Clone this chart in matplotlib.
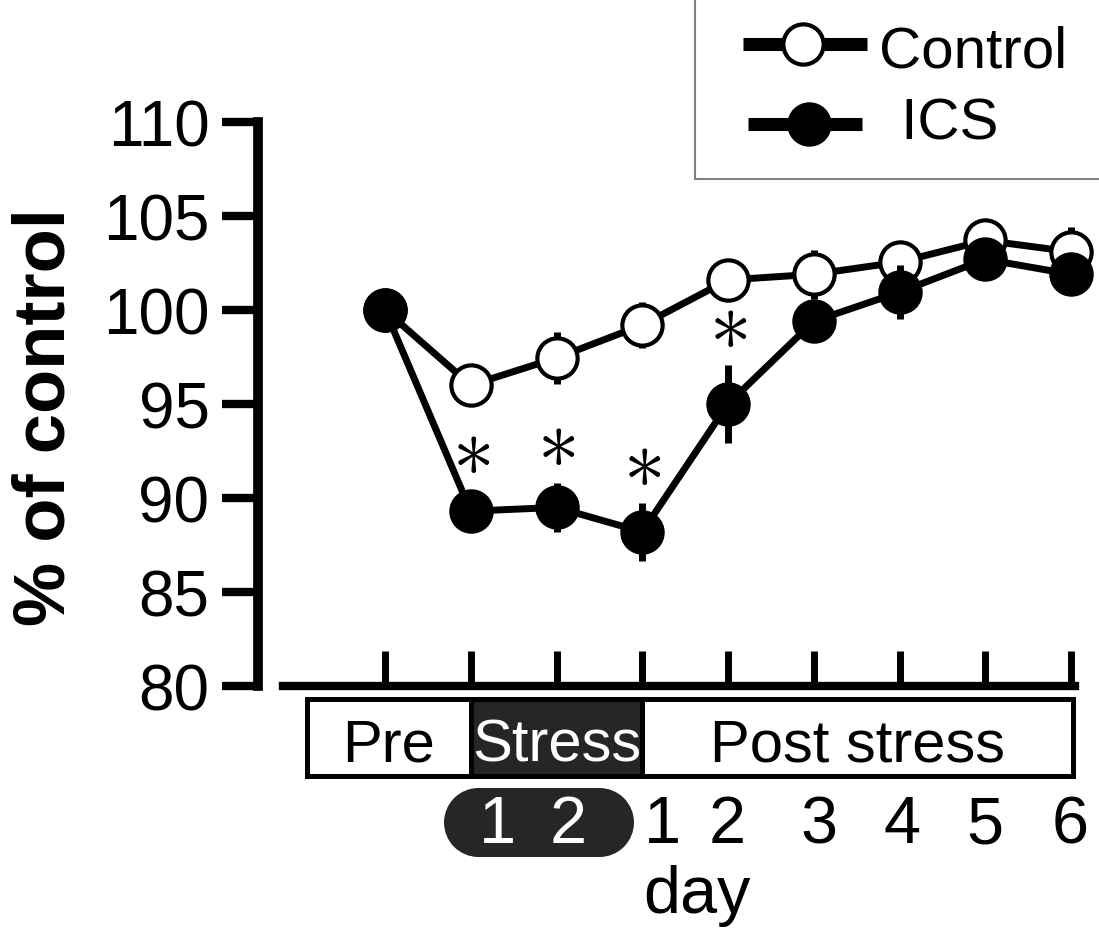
import numpy as np
import matplotlib
matplotlib.use("Agg")
import matplotlib.pyplot as plt
from matplotlib.patches import Rectangle, Ellipse
from matplotlib.transforms import blended_transform_factory

plt.rcParams['font.family'] = ['Liberation Sans', 'DejaVu Sans']

# ---------------- data ----------------
day_index = np.arange(9)
ctrl_mean = [100.0, 96.0, 97.45, 99.2, 101.6, 101.9, 102.55, 103.7, 103.1]
ctrl_err = [0.0, 0.8, 1.4, 1.2, 0.8, 1.3, 1.1, 1.0, 1.3]
ics_mean = [100.0, 89.3, 89.5, 88.2, 95.0, 99.4, 100.95, 102.7, 101.9]
ics_err = [0.0, 1.1, 1.3, 1.55, 2.1, 0.9, 1.45, 0.9, 0.8]
significant = [False, True, True, True, True, False, False, False, False]

y_ticks = [80, 85, 90, 95, 100, 105, 110]
series_labels = ["Control", " ICS"]
phase_labels = ["Pre", "Stress", "Post stress"]
phase_bounds = [(-0.91, 1.0), (1.0, 3.0), (3.0, 8.02)]
stress_day_labels = ["1", "2"]
post_day_labels = ["1", "2", "3", "4", "5", "6"]
x_title = "day"
y_title = "% of control"

# ---------------- layout ----------------
W, H = 1099, 937
fig = plt.figure(figsize=(W / 100, H / 100), dpi=100)
ax_l, ax_r, ax_b, ax_t = 258, 1085, 687, 123
ax = fig.add_axes([ax_l / W, 1 - ax_b / H, (ax_r - ax_l) / W, (ax_b - ax_t) / H])
px_per_day = 85.75
x0_px = 385
ax.set_xlim((ax_l - x0_px) / px_per_day, (ax_r - x0_px) / px_per_day)
ax.set_ylim(80, 110)

for s in ['top', 'right']:
    ax.spines[s].set_visible(False)
ax.spines['left'].set_linewidth(7)
ax.spines['bottom'].set_linewidth(6)
ax.spines['bottom'].set_bounds(-1.19, 8.05)
ax.spines['left'].set_capstyle('projecting')

ax.set_xticks(day_index)
ax.tick_params(axis='x', direction='in', length=25, width=5, labelbottom=False)
ax.set_yticks(y_ticks)
ax.tick_params(axis='y', direction='out', length=26, width=6, labelsize=46, pad=9)

lw = 5
ax.errorbar(day_index, ctrl_mean, yerr=ctrl_err, fmt='-o', color='black',
            mfc='white', mec='black', ms=29, mew=3, lw=lw, elinewidth=lw,
            capsize=0, zorder=3, clip_on=False)
ax.errorbar(day_index, ics_mean, yerr=ics_err, fmt='-o', color='black',
            mfc='black', mec='black', ms=29, mew=3, lw=lw, elinewidth=lw,
            capsize=0, zorder=4, clip_on=False)

# significance asterisks
for xi, m, e, sg in zip(day_index, ics_mean, ics_err, significant):
    if sg:
        ax.text(xi, m + e + 2.1, r"$\ast$", ha='center', va='center',
                fontsize=60, math_fontfamily='cm')

# ---------------- phase boxes ----------------
bt = blended_transform_factory(ax.transData, ax.transAxes)
def ay(py):
    return (ax_b - py) / (ax_b - ax_t)

box_top, box_bot = ay(700), ay(777)
for (lab, (x_a, x_b)) in zip(phase_labels, phase_bounds):
    dark = lab == "Stress"
    ax.add_patch(Rectangle((x_a, box_bot), x_b - x_a, box_top - box_bot,
                           transform=bt, facecolor='#262626' if dark else 'white',
                           edgecolor='black', lw=3.6, clip_on=False, zorder=5))
    ax.text((x_a + x_b) / 2, ay(762), lab, transform=bt, ha='center', va='baseline',
            fontsize=43, color='white' if dark else 'black', zorder=6, clip_on=False)

# pill for stress days (rectangle + two round ends)
pill_l_px, pill_r_px, pill_t_px, pill_b_px = 444, 634, 789, 858
diam_px = pill_b_px - pill_t_px
cx_l = (pill_l_px + diam_px / 2 - x0_px) / px_per_day
cx_r = (pill_r_px - diam_px / 2 - x0_px) / px_per_day
cy = ay((pill_t_px + pill_b_px) / 2)
d_x = diam_px / px_per_day
d_y = ay(pill_t_px) - ay(pill_b_px)
pill_kw = dict(transform=bt, facecolor='#262626', edgecolor='none', clip_on=False, zorder=5)
ax.add_patch(Rectangle((cx_l, ay(pill_b_px)), cx_r - cx_l, d_y, **pill_kw))
ax.add_patch(Ellipse((cx_l, cy), d_x, d_y, **pill_kw))
ax.add_patch(Ellipse((cx_r, cy), d_x, d_y, **pill_kw))

stress_label_x = [1.306, 2.134]
for lab, xx in zip(stress_day_labels, stress_label_x):
    ax.text(xx, ay(843), lab, transform=bt, ha='center', va='baseline', fontsize=48,
            color='white', zorder=6, clip_on=False)
post_label_x = [3.24, 3.99, 5.06, 6.03, 7.0, 7.99]
for lab, xx in zip(post_day_labels, post_label_x):
    ax.text(xx, ay(843), lab, transform=bt, ha='center', va='baseline', fontsize=48,
            color='black', zorder=6, clip_on=False)
ax.text(3.641, ay(913), x_title, transform=bt, ha='center', va='baseline', fontsize=48,
        clip_on=False)

# y title
fig.text(65 / W, 1 - 417.5 / H, y_title, rotation=90, rotation_mode='anchor',
         ha='center', va='baseline', fontsize=52, fontweight='bold')

# ---------------- legend ----------------
lax = fig.add_axes([695 / W, 1 - 180 / H, 404 / W, 180 / H])
lax.set_xlim(695, 1099)
lax.set_ylim(180, 0)
lax.set_xticks([]); lax.set_yticks([])
for s in ['top', 'right']:
    lax.spines[s].set_visible(False)
for s in ['left', 'bottom']:
    lax.spines[s].set_color('#808080')
    lax.spines[s].set_linewidth(1.5)
lax.patch.set_alpha(0)
lax.plot([743, 867], [45, 45], color='black', lw=9.4, solid_capstyle='butt')
lax.plot([803], [45], 'o', ms=29, mfc='white', mec='black', mew=3)
lax.text(879, 67, series_labels[0], ha='left', va='baseline', fontsize=42)
lax.plot([748, 862], [125, 125], color='black', lw=9.4, solid_capstyle='butt')
lax.plot([809], [125], 'o', ms=29, mfc='black', mec='black', mew=3)
lax.text(885, 139, series_labels[1], ha='left', va='baseline', fontsize=42)

fig.savefig("out.png", dpi=100)
